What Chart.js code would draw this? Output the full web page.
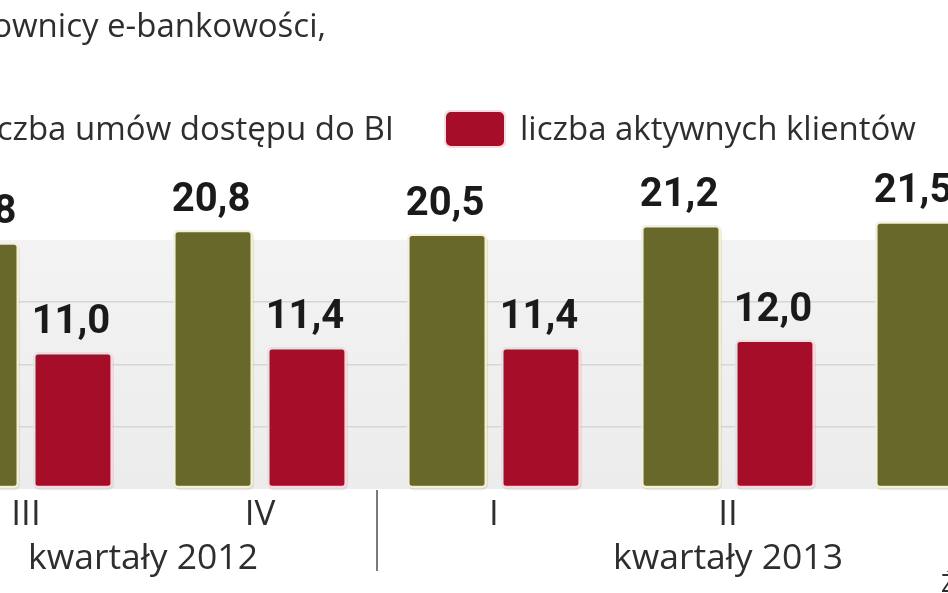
<!DOCTYPE html>
<html>
<head>
<meta charset="utf-8">
<script src="https://cdn.jsdelivr.net/npm/chart.js@4.4.1/dist/chart.umd.min.js"></script>
<style>
  html, body { margin: 0; padding: 0; background: #ffffff; overflow: hidden; width: 948px; height: 593px; }
  #wrap { position: absolute; left: -200px; top: 0; width: 1400px; height: 593px; }
</style>
</head>
<body>
<div id="wrap"><canvas id="c" width="1400" height="593"></canvas></div>
<script>
// ---- data ----
const categories = ['III', 'IV', 'I', 'II', 'III'];
const yearGroups = ['kwartały 2012', 'kwartały 2013'];
const yearGroupStart = [0, 2];
const yearGroupEnd = [1, 4];
const seriesNames = ['liczba umów dostępu do BI', 'liczba aktywnych klientów'];
const umowy = [19.8, 20.8, 20.5, 21.2, 21.5];
const klienci = [11.0, 11.4, 11.4, 12.0, null];
const gridValues = [5, 10, 15];
const bandTop = 20;
const titleText = 'Użytkownicy e-bankowości,';
const sourceText = 'Źródło: ZBP';

const OFF = 200; // canvas offset (canvas starts at viewport x = -200)
const GREEN = '#68682a';
const RED = '#a50d29';
const TEXT = '#2e2e2e';
const SANS = '"Open Sans", "Liberation Sans", sans-serif';

const fmt = v => v.toFixed(1).replace('.', ',');

const decor = {
  id: 'decor',
  beforeDraw(chart) {
    const ctx = chart.ctx, y = chart.scales.y;
    ctx.save();
    const t = y.getPixelForValue(bandTop), b = y.getPixelForValue(0);
    const g = ctx.createLinearGradient(0, t, 0, b);
    g.addColorStop(0, '#f3f3f3');
    g.addColorStop(1, '#ececec');
    ctx.fillStyle = g;
    ctx.fillRect(0, t, chart.width, b - t);
    ctx.restore();
  },
  beforeDatasetsDraw(chart) {
    const ctx = chart.ctx;
    ctx.save();
    ctx.fillStyle = 'rgba(0,0,0,0.08)';
    chart.data.datasets.forEach((ds, di) => {
      chart.getDatasetMeta(di).data.forEach((bar, i) => {
        if (ds.data[i] === null) return;
        const w = bar.width;
        ctx.beginPath();
        ctx.roundRect(bar.x - w / 2 + 1, bar.y + 1, w, bar.base - bar.y + 1, 6);
        ctx.fill();
      });
    });
    ctx.restore();
  },
  afterDatasetsDraw(chart) {
    const ctx = chart.ctx;
    ctx.save();
    ctx.font = '700 40px Roboto, "DejaVu Sans", sans-serif';
    ctx.fillStyle = '#1a1a1a';
    ctx.textAlign = 'center';
    ctx.textBaseline = 'alphabetic';
    chart.data.datasets.forEach((ds, di) => {
      const meta = chart.getDatasetMeta(di);
      meta.data.forEach((bar, i) => {
        const v = ds.data[i];
        if (v === null || v === undefined) return;
        ctx.fillText(fmt(v), bar.x - 2, bar.y - 19);
      });
    });
    ctx.restore();
  },
  afterDraw(chart) {
    const ctx = chart.ctx, x = chart.scales.x;
    ctx.save();
    // title
    ctx.fillStyle = TEXT;
    ctx.font = '33px ' + SANS;
    ctx.textBaseline = 'alphabetic';
    ctx.textAlign = 'right';
    ctx.fillText(titleText, OFF + 326, 37);
    // legend
    ctx.font = '33px ' + SANS;
    ctx.textAlign = 'right';
    ctx.fillText(seriesNames[0], OFF + 394, 140);
    ctx.textAlign = 'left';
    ctx.fillText(seriesNames[1], OFF + 520, 140);
    ctx.fillStyle = GREEN;
    ctx.beginPath();
    ctx.roundRect(OFF + 394 - ctx.measureText(seriesNames[0]).width - 75, 111, 60, 36, 5);
    ctx.fill();
    ctx.fillStyle = '#f6dde0';
    ctx.beginPath(); ctx.roundRect(OFF + 444, 110, 62, 38, 6); ctx.fill();
    ctx.fillStyle = RED;
    ctx.beginPath(); ctx.roundRect(OFF + 446, 112, 58, 34, 5); ctx.fill();
    // year groups
    ctx.fillStyle = TEXT;
    ctx.font = '35.5px ' + SANS;
    ctx.textAlign = 'center';
    yearGroups.forEach((lab, k) => {
      const cx = (x.getPixelForValue(yearGroupStart[k]) + x.getPixelForValue(yearGroupEnd[k])) / 2;
      ctx.fillText(lab, cx, 569);
    });
    // separator
    const sx = (x.getPixelForValue(yearGroupEnd[0]) + x.getPixelForValue(yearGroupStart[1])) / 2;
    ctx.strokeStyle = '#7a7a7a';
    ctx.lineWidth = 2;
    ctx.beginPath(); ctx.moveTo(sx, 490); ctx.lineTo(sx, 571); ctx.stroke();
    // source
    ctx.font = '26px ' + SANS;
    ctx.textAlign = 'left';
    ctx.fillStyle = TEXT;
    ctx.fillText(sourceText, OFF + 941, 592);
    ctx.restore();
  }
};

new Chart(document.getElementById('c'), {
  type: 'bar',
  data: {
    labels: categories,
    datasets: [
      { label: seriesNames[0], data: umowy, backgroundColor: GREEN, borderColor: '#f4f0d2',
        borderWidth: 2.5, borderRadius: 5, borderSkipped: false,
        categoryPercentage: 0.803, barPercentage: 0.85 },
      { label: seriesNames[1], data: klienci, backgroundColor: RED, borderColor: '#f7dadd',
        borderWidth: 2.5, borderRadius: 5, borderSkipped: false,
        categoryPercentage: 0.803, barPercentage: 0.85 }
    ]
  },
  options: {
    responsive: false,
    animation: false,
    devicePixelRatio: 1,
    layout: { padding: { left: 109, right: 121, top: 190, bottom: 0 } },
    plugins: { legend: { display: false }, tooltip: { enabled: false }, title: { display: false } },
    scales: {
      x: {
        grid: { display: false, drawTicks: false },
        border: { display: false },
        ticks: { color: TEXT, font: { family: SANS, size: 35 }, padding: 5, maxRotation: 0 },
        afterFit: s => { s.height = 104; }
      },
      y: {
        min: 0, max: 24,
        afterFit: s => { s.width = 0; },
        border: { display: false },
        ticks: { display: false, stepSize: 5 },
        grid: {
          drawTicks: false,
          lineWidth: 1.5,
          color: c => gridValues.includes(c.tick.value) ? '#d6d6d6' : 'rgba(0,0,0,0)'
        }
      }
    }
  },
  plugins: [decor]
});
</script>
</body>
</html>
